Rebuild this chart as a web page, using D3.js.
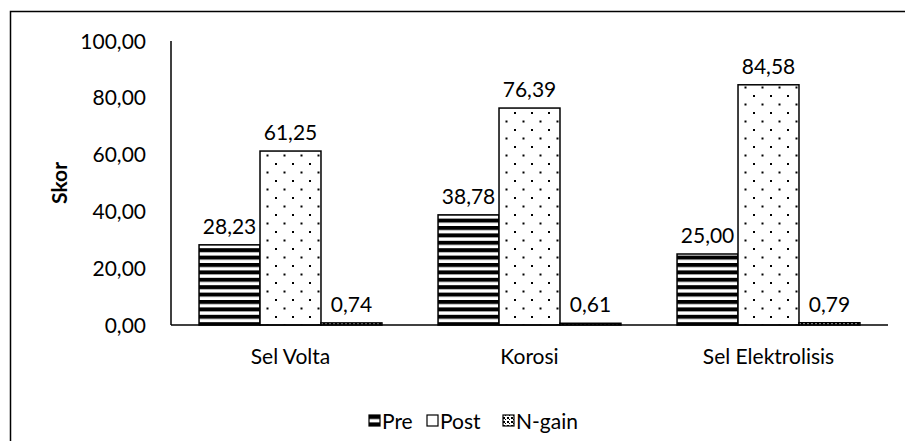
<!DOCTYPE html>
<html>
<head>
<meta charset="utf-8">
<script src="https://cdn.jsdelivr.net/npm/d3@7"></script>
<style>
body { margin:0; background:#fff; }
text { font-family: Lato, "Open Sans", sans-serif; fill:#000; }
</style>
</head>
<body>
<script>
const w = 905;
const h = 441;
const margin = {left:171, right:17, top:41, bottom:116};
const fontSize = 21;

const categories = ["Sel Volta", "Korosi", "Sel Elektrolisis"];
const seriesNames = ["Pre", "Post", "N-gain"];
const pre = [28.23, 38.78, 25.00];
const post = [61.25, 76.39, 84.58];
const ngain = [0.74, 0.61, 0.79];
const yTicks = [0, 20, 40, 60, 80, 100];

const values = [pre, post, ngain];
const innerW = w-(margin.left+margin.right);
const innerH = h-(margin.top+margin.bottom);
const fmt = v => v.toFixed(2).replace(".", ",");

const svg = d3.select("body").append("svg")
    .attr("width", w)
    .attr("height", h);

// patterns
const defs = svg.append("defs");
const pStripe = defs.append("pattern")
    .attr("id", "pat-pre")
    .attr("patternUnits", "userSpaceOnUse")
    .attr("width", 8).attr("height", 7.4);
pStripe.append("rect").attr("width", 8).attr("height", 7.4).attr("fill", "#fff");
pStripe.append("rect").attr("y", 0).attr("width", 8).attr("height", 4).attr("fill", "#000");

const pDots = defs.append("pattern")
    .attr("id", "pat-post")
    .attr("patternUnits", "userSpaceOnUse")
    .attr("width", 17).attr("height", 17);
pDots.append("rect").attr("width", 17).attr("height", 17).attr("fill", "#fff");
pDots.append("rect").attr("x", 2).attr("y", 3).attr("width", 2).attr("height", 2).attr("fill", "#000");
pDots.append("rect").attr("x", 10.5).attr("y", 11.5).attr("width", 2).attr("height", 2).attr("fill", "#000");

const pMix = defs.append("pattern")
    .attr("id", "pat-ngain")
    .attr("patternUnits", "userSpaceOnUse")
    .attr("width", 4).attr("height", 4);
pMix.append("rect").attr("width", 4).attr("height", 4).attr("fill", "#fff");
pMix.append("rect").attr("x", 0).attr("y", 2).attr("width", 2).attr("height", 2).attr("fill", "#000");
pMix.append("rect").attr("x", 2).attr("y", 0).attr("width", 1).attr("height", 1).attr("fill", "#000");

const fills = ["url(#pat-pre)", "url(#pat-post)", "url(#pat-ngain)"];

// outer frame (only left and top are inside the picture)
svg.append("path")
    .attr("d", "M10.5," + h + "V11.5H" + (w + 2))
    .attr("fill", "none")
    .attr("stroke", "#000")
    .attr("stroke-width", 1.5);

const x0 = d3.scaleBand()
    .domain(categories)
    .range([0, innerW]);
const x1 = d3.scaleBand()
    .domain(seriesNames)
    .range([0, x0.bandwidth()])
    .paddingInner(0)
    .paddingOuter(0.46);
const y = d3.scaleLinear()
    .domain([0, 100])
    .range([innerH, 0]);

const g = svg.append("g")
    .attr("transform", "translate(" + margin.left + "," + margin.top + ")");

// y tick labels
g.selectAll(".ytick")
    .data(yTicks)
    .enter().append("text")
    .attr("class", "ytick")
    .attr("x", -25)
    .attr("y", d => y(d))
    .attr("dy", "0.36em")
    .attr("text-anchor", "end")
    .attr("font-size", fontSize)
    .text(fmt);

// y axis title
svg.append("text")
    .attr("transform", "translate(67," + (margin.top + innerH/2) + ") rotate(-90)")
    .attr("text-anchor", "middle")
    .attr("font-size", fontSize)
    .attr("font-weight", "bold")
    .text("Skor");

// bars
const groups = g.selectAll(".grp")
    .data(categories)
    .enter().append("g")
    .attr("class", "grp")
    .attr("transform", d => "translate(" + x0(d) + ",0)");

groups.selectAll("rect")
    .data((d, i) => seriesNames.map((s, j) => ({s: s, j: j, v: values[j][i]})))
    .enter().append("rect")
    .attr("x", d => x1(d.s))
    .attr("y", d => y(d.v))
    .attr("width", x1.bandwidth())
    .attr("height", d => innerH - y(d.v))
    .attr("fill", d => fills[d.j])
    .attr("stroke", "#000")
    .attr("stroke-width", 1.5);

groups.selectAll(".lbl")
    .data((d, i) => seriesNames.map((s, j) => ({s: s, j: j, v: values[j][i]})))
    .enter().append("text")
    .attr("class", "lbl")
    .attr("x", d => x1(d.s) + x1.bandwidth()/2)
    .attr("y", d => y(d.v) - 11)
    .attr("text-anchor", "middle")
    .attr("font-size", fontSize)
    .text(d => fmt(d.v));

// axes lines
g.append("line")
    .attr("x1", 0).attr("x2", 0)
    .attr("y1", 0).attr("y2", innerH)
    .attr("stroke", "#000").attr("stroke-width", 1.5);
g.append("line")
    .attr("x1", 0).attr("x2", innerW)
    .attr("y1", innerH).attr("y2", innerH)
    .attr("stroke", "#000").attr("stroke-width", 1.5);

// category labels
g.selectAll(".xlbl")
    .data(categories)
    .enter().append("text")
    .attr("class", "xlbl")
    .attr("x", d => x0(d) + x0.bandwidth()/2)
    .attr("y", innerH + 39)
    .attr("text-anchor", "middle")
    .attr("font-size", fontSize)
    .text(d => d);

// legend
const legX = [369, 427, 503];
const leg = svg.selectAll(".leg")
    .data(seriesNames)
    .enter().append("g")
    .attr("class", "leg")
    .attr("transform", (d, i) => "translate(" + legX[i] + ",415)");
leg.append("rect")
    .attr("width", 11).attr("height", 11)
    .attr("fill", (d, i) => i == 1 ? "#fff" : fills[i])
    .attr("stroke", "#000").attr("stroke-width", 1.2);
leg.append("text")
    .attr("x", 13)
    .attr("y", 6)
    .attr("dy", "0.36em")
    .attr("font-size", fontSize)
    .text(d => d);
</script>
</body>
</html>
